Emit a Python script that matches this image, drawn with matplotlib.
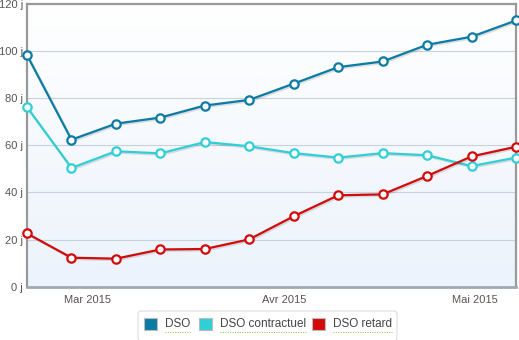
import numpy as np
import matplotlib
matplotlib.use("Agg")
import matplotlib.pyplot as plt
import matplotlib.dates as mdates
import matplotlib.patheffects as pe
from matplotlib.patches import Rectangle

plt.rcParams["font.family"] = ["Liberation Sans", "DejaVu Sans"]

# weekly snapshots
dates = np.arange(np.datetime64("2015-02-19T12"), np.datetime64("2015-05-10T12"),
                  np.timedelta64(7, "D"))
dso = [98.3, 62.4, 69.2, 71.8, 76.9, 79.3, 86.2, 93.2, 95.6, 102.7, 106.1, 113.0]
dso_contractuel = [76.2, 50.4, 57.5, 56.6, 61.4, 59.6, 56.7, 54.8, 56.7, 55.8, 51.2, 54.8]
dso_retard = [22.6, 12.3, 11.9, 15.8, 16.0, 20.1, 29.9, 38.8, 39.2, 47.0, 55.3, 59.4]

series = [("DSO", dso, "#0a7ca3"),
          ("DSO contractuel", dso_contractuel, "#2fcfd6"),
          ("DSO retard", dso_retard, "#d20a0a")]
month_names = {3: "Mar", 4: "Avr", 5: "Mai"}

W, H = 519, 340
fig = plt.figure(figsize=(W / 100, H / 100), dpi=100)
ax = fig.add_axes([27 / W, (H - 286.7) / H, (516 - 27) / W, (286.7 - 4) / H])

# soft vertical gradient behind the plot
grad = np.linspace(0, 1, 256).reshape(-1, 1)
cmap = matplotlib.colors.LinearSegmentedColormap.from_list("bg", ["#ffffff", "#ecf3fc"])
ax.imshow(grad, aspect="auto", cmap=cmap, extent=[0, 1, 0, 1],
          transform=ax.transAxes, zorder=0)

for y in range(20, 120, 20):
    ax.axhline(y, color="#c8d2dc", lw=0.8, zorder=1)

shadow = [pe.SimpleLineShadow(offset=(1, -1), shadow_color="#000000", alpha=0.12),
          pe.Normal()]
for name, vals, col in series:
    ax.plot(dates, vals, color=col, lw=1.6, zorder=3, path_effects=shadow)
    ax.plot(dates, vals, "o", color=col, ms=6, mfc="white", mew=1.6,
            zorder=4, clip_on=False)

ax.set_xlim(dates[0], dates[-1])
ax.set_ylim(0, 120)
ax.set_yticks(range(0, 121, 20))
ax.set_yticklabels([f"{v} j" for v in range(0, 121, 20)])
ax.xaxis.set_major_locator(mdates.MonthLocator())
ax.xaxis.set_major_formatter(matplotlib.ticker.FuncFormatter(
    lambda x, p: month_names.get(mdates.num2date(x).month, "")
    + mdates.num2date(x).strftime(" %Y")))
ax.tick_params(axis="both", length=0, labelsize=8, labelcolor="#555555")
ax.tick_params(axis="y", pad=3)
ax.tick_params(axis="x", pad=6)

for s in ["left", "top", "right"]:
    ax.spines[s].set_color("#999999")
    ax.spines[s].set_linewidth(1.6)
ax.spines["bottom"].set_color("#a0a8b0")
ax.spines["bottom"].set_linewidth(2)

# legend box
legend_ax = fig.add_axes([0, 0, 1, 1], facecolor="none")
legend_ax.set_xlim(0, W)
legend_ax.set_ylim(H, 0)
legend_ax.axis("off")
legend_ax.add_patch(matplotlib.patches.FancyBboxPatch(
    (138, 311), 259, 30, boxstyle="round,pad=0,rounding_size=3",
    fc="white", ec="#dddddd", lw=0.8))
items = [144, 199, 312]
for x0, (label, _, col) in zip(items, series):
    legend_ax.add_patch(Rectangle((x0, 317.5), 12.5, 12.5, fc=col, ec="#bbbbbb", lw=0.8))
    t = legend_ax.text(x0 + 21, 324, label, fontsize=8.5, color="#444444",
                       va="center", ha="left")
    fig.canvas.draw()
    bb = t.get_window_extent().transformed(legend_ax.transData.inverted())
    legend_ax.plot([bb.x0, bb.x1], [332, 332], color="#8cbf3a", lw=0.7,
                   ls=(0, (1, 1.5)))

fig.savefig("out.png", dpi=100)
